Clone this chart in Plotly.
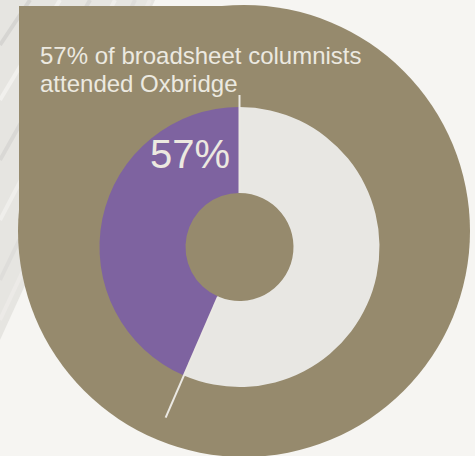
import math
import plotly.graph_objects as go

# dados
rotulos = ["Oxbridge", "Outros"]
valores = [56.5, 43.5]          # fatia clara / fatia roxa
cores = ["#e8e7e3", "#7e63a0"]
titulo_l1 = "57% of broadsheet columnists"
titulo_l2 = "attended Oxbridge"
rotulo_pct = "57%"

W, H = 475, 456
MARROM = "#968a6d"
FUNDO = "#f6f5f2"
TEXTO = "#ece9e0"
LINHA = "#ebe9e3"


def px(x):
    return x / W


def py(y):
    return 1 - y / H


# donut: centro (239.5, 247), raio 140, furo 54
cx, cy, r, r_furo = 239.5, 247, 140, 54

pizza = go.Pie(labels=rotulos, values=valores, sort=False,
               direction="counterclockwise", rotation=0,
               hole=r_furo / r, textinfo="none", hoverinfo="skip",
               marker={"colors": cores, "line": {"width": 0}},
               domain={"x": [px(cx - r), px(cx + r)],
                       "y": [py(cy + r), py(cy - r)]},
               showlegend=False)

fig = go.Figure(data=[pizza])


def ponto(ang, raio):
    # angulo em graus, sentido horario a partir das 12h
    a = math.radians(ang)
    return cx + raio * math.sin(a), cy - raio * math.cos(a)


formas = []
# textura cinza no canto superior esquerdo
formas.append(dict(type="path", xref="paper", yref="paper", layer="below",
                   path="M 0,1 L %f,1 L 0,%f Z" % (px(155), py(340)),
                   fillcolor="#e6e5e1", line={"width": 0}))
riscos = [(30, 45, "#d6d5d2"), (60, 100, "#f1f0ed"), (90, 160, "#d9d8d5"),
          (115, 220, "#efeeeb"), (135, 280, "#dedddA"), (150, 320, "#eceae7")]
for xt, yl, c in riscos:
    formas.append(dict(type="line", xref="paper", yref="paper", layer="below",
                       x0=px(xt), y0=py(0), x1=px(0), y1=py(yl),
                       line={"color": c, "width": 4}))
# forma marrom: circulo + canto quadrado
formas.append(dict(type="circle", xref="paper", yref="paper", layer="below",
                   x0=px(18), x1=px(470), y0=py(457), y1=py(5),
                   fillcolor=MARROM, line={"width": 0}))
formas.append(dict(type="rect", xref="paper", yref="paper", layer="below",
                   x0=px(19), x1=px(244), y0=py(231), y1=py(6),
                   fillcolor=MARROM, line={"width": 0}))
# linhas de chamada nas divisas das fatias
fronteira = 360 * valores[0] / sum(valores)
for ang, r_fim in [(0, 152), (fronteira, 186)]:
    x0, y0 = ponto(ang, r_furo)
    x1, y1 = ponto(ang, r_fim)
    formas.append(dict(type="line", xref="paper", yref="paper", layer="above",
                       x0=px(x0), x1=px(x1), y0=py(y0), y1=py(y1),
                       line={"color": LINHA, "width": 2}))

fonte = "Liberation Sans, Arial, sans-serif"
anotacoes = [
    dict(text=titulo_l1, x=px(38), y=py(56), xanchor="left", yanchor="middle",
         font={"family": fonte, "size": 24, "color": TEXTO}),
    dict(text=titulo_l2, x=px(38), y=py(83), xanchor="left", yanchor="middle",
         font={"family": fonte, "size": 24, "color": TEXTO}),
    dict(text=rotulo_pct, x=px(190), y=py(154), xanchor="center", yanchor="middle",
         font={"family": fonte, "size": 40, "color": TEXTO}),
]
for a in anotacoes:
    a.update(xref="paper", yref="paper", showarrow=False)

fig.update_layout(width=W, height=H, margin=dict(l=0, r=0, t=0, b=0),
                  paper_bgcolor=FUNDO, plot_bgcolor=FUNDO,
                  shapes=formas, annotations=anotacoes)

# tira a margem padrao do body para o grafico ocupar a janela toda
fig.write_html("out.html", config={"displayModeBar": False},
               post_script="document.body.style.margin='0';")
